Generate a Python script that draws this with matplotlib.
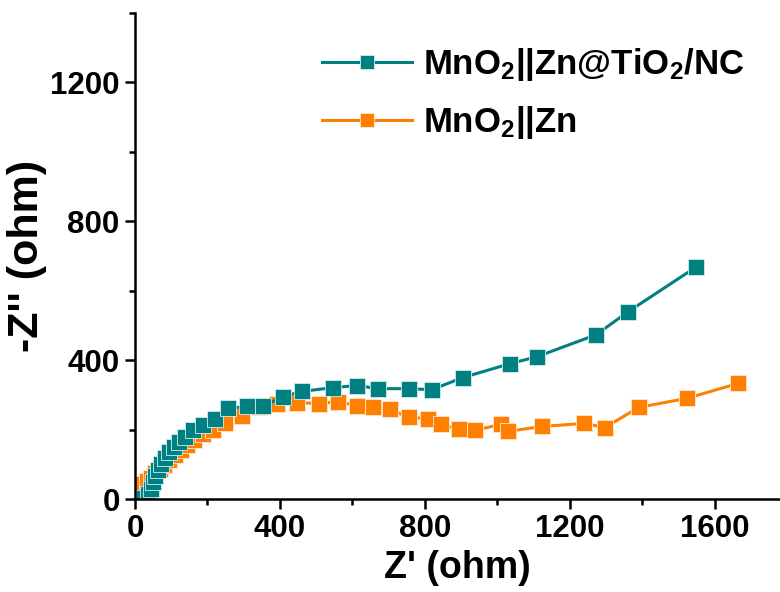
import matplotlib.pyplot as plt
import numpy as np
from matplotlib.ticker import MultipleLocator

plt.rcParams['font.family'] = ['Liberation Sans', 'DejaVu Sans']
plt.rcParams['font.weight'] = 'bold'
plt.rcParams['mathtext.fontset'] = 'custom'
plt.rcParams['mathtext.rm'] = 'Liberation Sans:bold'
plt.rcParams['mathtext.default'] = 'rm'

# Nyquist data, Z' and -Z'' in ohm
tio2_x = [14, 26, 36, 44, 50, 56, 63, 72, 83, 95, 108, 122, 138, 160, 188, 221, 257,
          309, 353, 408, 461, 546, 613, 670, 756, 819, 905, 1035, 1109, 1272, 1360, 1548]
tio2_y = [0, 4, 14, 30, 48, 66, 83, 100, 117, 135, 150, 165, 180, 198, 212, 232, 261,
          267, 267, 295, 310, 321, 327, 318, 318, 315, 350, 390, 410, 473, 539, 668]

bare_x = [8, 20, 32, 44, 56, 68, 80, 94, 110, 126, 144, 164, 188, 215, 248, 295,
          345, 392, 447, 508, 560, 613, 657, 704, 756, 808, 844, 894, 938, 1010, 1029,
          1123, 1239, 1297, 1390, 1523, 1664]
bare_y = [38, 44, 52, 62, 74, 86, 98, 112, 128, 142, 156, 170, 186, 200, 218, 240,
          264, 275, 278, 275, 281, 269, 264, 258, 235, 232, 215, 201, 198, 215, 195,
          209, 218, 206, 264, 290, 333]

teal = '#008080'
orange = '#ff8000'

fig = plt.figure(figsize=(7.8, 5.92), dpi=100)
ax = fig.add_axes([0.173, 0.157, 0.827, 0.821])

l2, = ax.plot(bare_x, bare_y, '-s', color=orange, lw=2.2, ms=11.5,
              mec='#ffe8d0', mew=0.6, label=r'MnO$_2$||Zn', zorder=3)
l1, = ax.plot(tio2_x, tio2_y, '-s', color=teal, lw=2.2, ms=11.5,
              mec='#d0eeee', mew=0.6, label=r'MnO$_2$||Zn@TiO$_2$/NC', zorder=4)

ax.set_xlim(0, 1780)
ax.set_ylim(0, 1400)
ax.xaxis.set_major_locator(MultipleLocator(400))
ax.xaxis.set_minor_locator(MultipleLocator(200))
ax.yaxis.set_major_locator(MultipleLocator(400))
ax.yaxis.set_minor_locator(MultipleLocator(200))

for s in ['top', 'right']:
    ax.spines[s].set_visible(False)
for s in ['left', 'bottom']:
    ax.spines[s].set_linewidth(1.8)
    ax.spines[s].set_zorder(5)

ax.tick_params(which='major', direction='out', length=7, width=1.8, labelsize=22.5, pad=4)
ax.tick_params(which='minor', direction='out', length=4, width=1.8)

ax.set_xlabel("Z' (ohm)", fontsize=27, fontweight='bold', labelpad=4)
ax.set_ylabel("-Z'' (ohm)", fontsize=31, fontweight='bold', labelpad=2)

ax.legend(handles=[l1, l2], loc='upper left', bbox_to_anchor=(0.373, 0.975),
          bbox_transform=fig.transFigure, frameon=False, fontsize=25,
          handlelength=2.6, handletextpad=0.3, labelspacing=0.6, numpoints=1,
          markerscale=0.85)

fig.savefig('out.png', dpi=100)
